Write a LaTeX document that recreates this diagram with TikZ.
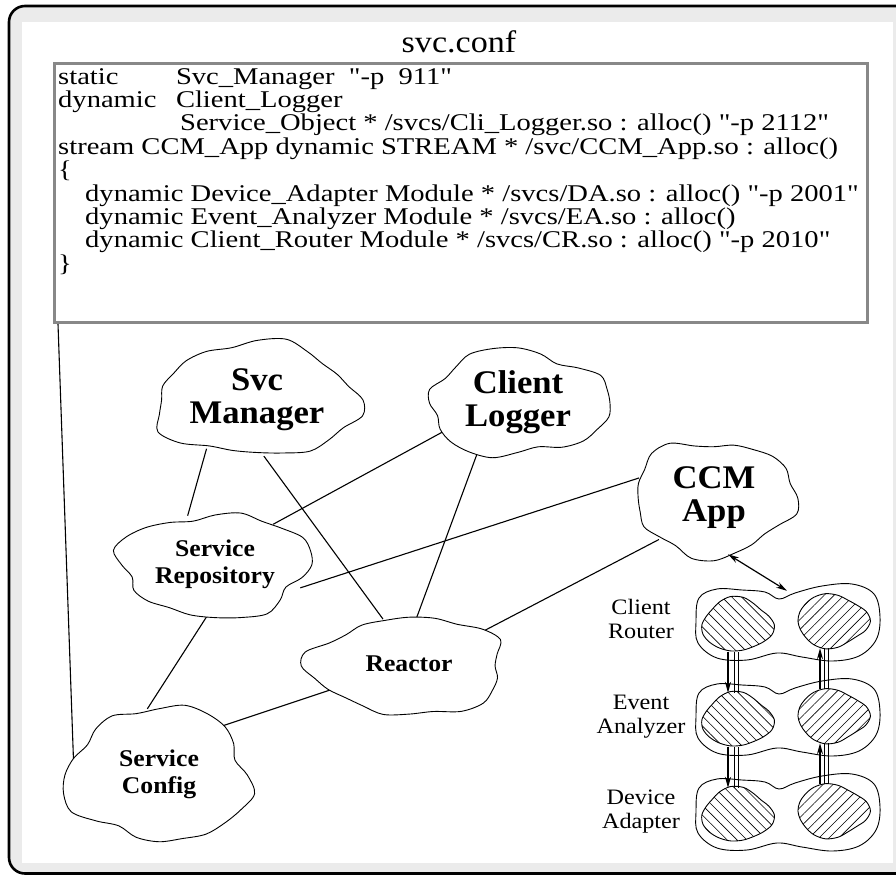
\documentclass[tikz,border=0pt]{standalone}
\usepackage{fontspec}
\usepackage{graphicx}
\setmainfont{Liberation Serif}
\usetikzlibrary{calc, positioning, shapes.geometric, patterns.meta, arrows.meta}
\pgfdeclarelayer{back}
\pgfsetlayers{back,main}
\definecolor{framegray}{HTML}{EBEBEB}
\definecolor{boxgray}{HTML}{888888}
\newcommand{\widen}[3][c]{\scalebox{#2}[1]{\begin{tabular}{@{}#1@{}}#3\end{tabular}}}
\newcommand{\widelines}[2]{\scalebox{#1}[1]{\parbox[t]{740pt}{\lineskiplimit=-100pt\baselineskip=23.4pt\relax #2}}}
\newcommand{\dq}{\XeTeXglyph\XeTeXcharglyph"22\relax}
\newcommand{\biglbl}{\fontsize{33}{33}\selectfont\bfseries}
\newcommand{\smalllbl}{\fontsize{24}{27}\selectfont\bfseries}
\tikzset{
    blob/.style={ellipse, inner sep=0pt},
    blobline/.style={line width=0.9pt, fill=white},
    link/.style={line width=1.1pt, shorten <=-16pt, shorten >=-16pt},
    confbox/.style={draw=boxgray, line width=3pt, inner sep=0pt},
    conftext/.style={inner sep=0pt, font=\fontsize{24}{23.4}\selectfont},
    rowbox/.style={inner sep=0pt, minimum width=180pt, minimum height=62pt},
    innerbox/.style={inner sep=0pt, minimum width=70pt, minimum height=54pt},
    rowlabel/.style={inner sep=0pt, font=\fontsize{22}{24}\selectfont},
    hatchback/.style={pattern={Lines[angle=-45, distance=7pt, line width=0.6pt]}},
    hatchfwd/.style={pattern={Lines[angle=45, distance=7pt, line width=0.6pt]}},
    flow/.style={-{Stealth[length=11pt, width=6pt]}, line width=1.3pt},
    biarrow/.style={{Stealth[length=11pt, width=6pt]}-{Stealth[length=11pt, width=6pt]}, line width=1.2pt},
    channel/.style={line width=0.8pt}
}
\newcommand{\cloudnode}[6]{
    \draw[blobline, shift={(#2)}] plot[smooth cycle, tension=0.55, samples at={0,15,...,345}, variable=\ang]
    ({#3/2*(0.95+0.06*sin(3*\ang+#5)+0.05*cos(5*\ang+2*#5)+0.03*sin(8*\ang))*cos(\ang)},
    {#4/2*(0.95+0.06*sin(3*\ang+#5)+0.05*cos(5*\ang+2*#5)+0.03*sin(8*\ang))*sin(\ang)});
    \node[blob, minimum width={0.95*#3 pt}, minimum height={0.95*#4 pt}] (#1) at (#2) {#6};
}
\newcommand{\hatchblob}[3]{
    \draw[blobline, #2, shift={(#1)}] plot[smooth cycle, tension=0.55, samples at={0,20,...,340}, variable=\ang]
    ({37*(0.94+0.06*sin(3*\ang+#3)+0.04*cos(4*\ang))*cos(\ang)},
    {28*(0.94+0.06*sin(3*\ang+#3)+0.04*cos(4*\ang))*sin(\ang)});
}
\newcommand{\streamrow}[3]{
    \draw[blobline, shift={(#2)}] plot[smooth cycle, tension=0.6] coordinates {(-91,0) (-88,-24) (-70,-33) (-45,-32) (-22,-30) (-8,-23) (8,-29) (35,-36) (65,-38) (87,-28) (93,-5) (89,18) (72,34) (45,39) (15,35) (-10,31) (-40,38) (-70,36) (-89,21)};
    \hatchblob{$(#2)+(-50,3)$}{hatchback}{30}
    \hatchblob{$(#2)+(45,-1)$}{hatchfwd}{100}
    \node[rowbox] (#1) at (#2) {};
    \node[innerbox] (#1-l) at ($(#2)+(-50,3)$) {};
    \node[innerbox] (#1-r) at ($(#2)+(45,-1)$) {};
    \node[rowlabel] (#1-t) at ($(#2)+(-146,0)$) {#3};
}

\begin{document}
\begin{tikzpicture}[x=1pt, y=-1pt]
    \useasboundingbox (0,0) rectangle (896,875);
    \begin{pgfonlayer}{back}
        \draw[line width=2.6pt, fill=framegray, rounded corners=16pt] (9,6) rectangle (930,873.5);
        \fill[white] (22,22) rectangle (893,863);
    \end{pgfonlayer}
    \node[inner sep=0pt, font=\fontsize{31}{33}\selectfont] (conftitle) at (459,46) {\widen{1.1}{svc.conf}};
    \node[confbox, minimum width=813pt, minimum height=259pt, anchor=north west] (conf) at (53,62) {};
    \node[conftext, anchor=north west] (conflines) at (58,68) {\widelines{1.19}{
        \makebox[99pt][l]{static}Svc\_Manager\ \ \dq-p\ \ 911\dq \\
        \makebox[99pt][l]{dynamic}Client\_Logger \\
        \hspace*{102.5pt}Service\_Object * /svcs/Cli\_Logger.so : alloc() \dq-p 2112\dq \\
        stream CCM\_App dynamic STREAM * /svc/CCM\_App.so : alloc() \\
        \{ \\
        \hspace*{22.7pt}dynamic Device\_Adapter Module * /svcs/DA.so : alloc() \dq-p 2001\dq \\
        \hspace*{22.7pt}dynamic Event\_Analyzer Module * /svcs/EA.so : alloc() \\
        \hspace*{22.7pt}dynamic Client\_Router Module * /svcs/CR.so : alloc() \dq-p 2010\dq \\
        \}}};
    \cloudnode{svc}{257,400}{212}{118}{0}{\biglbl\widen{1.05}{Svc\\Manager}}
    \cloudnode{logger}{518,403}{190}{110}{70}{\biglbl\widen{1.05}{Client\\Logger}}
    \cloudnode{ccm}{714,498}{168}{120}{140}{\biglbl\widen{1.05}{CCM\\App}}
    \cloudnode{repo}{215,565}{200}{108}{200}{\smalllbl\widen{1.07}{Service\\Repository}}
    \cloudnode{reactor}{409,666}{204}{102}{260}{\smalllbl\widen{1.07}{Reactor}}
    \cloudnode{cfg}{159,775}{192}{140}{320}{\smalllbl\widen{1.07}{Service\\Config}}
    \streamrow{cr}{787,622}{\widen{1.1}{Client\\Router}}
    \streamrow{ea}{787,717}{\widen{1.1}{Event\\Analyzer}}
    \streamrow{da}{787,812}{\widen{1.1}{Device\\Adapter}}
    \begin{pgfonlayer}{back}
        \draw[line width=1.1pt, shorten >=-16pt] ([xshift=5pt]conf.south west) -- (cfg.165);
        \draw[link]
        (svc.224) -- (repo.119)
        (svc.277) -- (reactor.119)
        (logger.201) -- (repo.35)
        (logger.230) -- (reactor.81)
        (ccm.165) -- (repo.345)
        (ccm.217) -- (reactor.25)
        (repo.261) -- (cfg.100)
        (reactor.197) -- (cfg.38);
    \end{pgfonlayer}
    \draw[biarrow] (ccm.284) -- (cr.north);
    \draw[channel]
    ([xshift=-3pt]cr-l.south) -- ([xshift=-3pt]ea-l.north)
    ([xshift=1pt]cr-l.south) -- ([xshift=1pt]ea-l.north)
    ([xshift=-8pt]cr-r.south) -- ([xshift=-8pt]ea-r.north)
    ([xshift=-4pt]cr-r.south) -- ([xshift=-4pt]ea-r.north)
    ([xshift=-3pt]ea-l.south) -- ([xshift=-3pt]da-l.north)
    ([xshift=1pt]ea-l.south) -- ([xshift=1pt]da-l.north)
    ([xshift=-8pt]ea-r.south) -- ([xshift=-8pt]da-r.north)
    ([xshift=-4pt]ea-r.south) -- ([xshift=-4pt]da-r.north);
    \draw[flow] ([xshift=-9pt]cr-l.south) -- ([xshift=-9pt]ea-l.north);
    \draw[flow] ([xshift=-9pt]ea-l.south) -- ([xshift=-9pt]da-l.north);
    \draw[flow] ([xshift=-12pt]ea-r.north) -- ([xshift=-12pt]cr-r.south);
    \draw[flow] ([xshift=-12pt]da-r.north) -- ([xshift=-12pt]ea-r.south);
\end{tikzpicture}
\end{document}
